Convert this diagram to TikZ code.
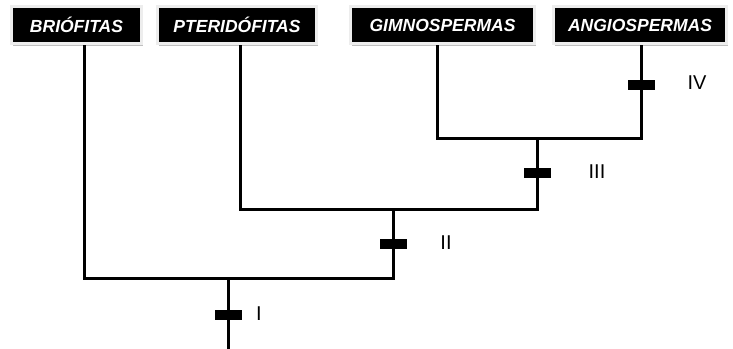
\documentclass[tikz,border=0pt]{standalone}
\usepackage{fontspec}
\setmainfont{Liberation Sans}
\usetikzlibrary{shadows}
\begin{document}
\begin{tikzpicture}[x=1pt,y=-1pt,
  taxon/.style={fill=black, draw=black!7, line width=3pt, text=white,
    font=\fontsize{17.5}{19}\selectfont\bfseries\itshape, minimum height=37pt, inner sep=0pt,
    drop shadow={shadow xshift=1pt, shadow yshift=-2.5pt, fill=black!25, opacity=1}},
  branch/.style={line width=3pt, line cap=rect, line join=miter},
  synbar/.style={fill=black, inner sep=0pt, minimum width=27pt, minimum height=10pt},
  lab/.style={font=\fontsize{20}{21}\selectfont, inner sep=0pt}]
\useasboundingbox (0,0) rectangle (733,348);
\fill[white] (0,0) rectangle (733,348);
% taxon boxes
\node[taxon, minimum width=130pt] (bri) at (76.5,25) {BRIÓFITAS};
\node[taxon, minimum width=159pt] (pte) at (237,25) {PTERIDÓFITAS};
\node[taxon, minimum width=184pt] (gim) at (442.5,25) {GIMNOSPERMAS};
\node[taxon, minimum width=173pt] (ang) at (640,25) {ANGIOSPERMAS};
% junction coordinates
\coordinate (ja) at (641,138);
\coordinate (jg) at (437,138);
\coordinate (j3) at (537,138);
\coordinate (k3) at (537,209);
\coordinate (jp) at (240,209);
\coordinate (j2) at (393,209);
\coordinate (k2) at (393,278);
\coordinate (jb) at (84,278);
\coordinate (j1) at (228,278);
\coordinate (root) at (228,350);
% branches
\draw[branch] ([yshift=-1.5pt]ang.south -| ja) -- (ja) -- (jg) -- ([yshift=-1.5pt]gim.south -| jg);
\draw[branch] (j3) -- (k3) -- (jp) -- ([yshift=-1.5pt]pte.south -| jp);
\draw[branch] (j2) -- (k2) -- (jb) -- ([yshift=-1.5pt]bri.south -| jb);
\draw[branch, line cap=butt] (j1) -- (root);
% synapomorphy bars
\node[synbar] (m1) at (228,315) {};
\node[synbar] (m2) at (393,244) {};
\node[synbar] (m3) at (537,173) {};
\node[synbar] (m4) at (641,85) {};
% labels
\node[lab] (l1) at (259,314) {I};
\node[lab] (l2) at (446,243) {II};
\node[lab] (l3) at (597,172) {III};
\node[lab] (l4) at (697,83) {IV};
\end{tikzpicture}
\end{document}
